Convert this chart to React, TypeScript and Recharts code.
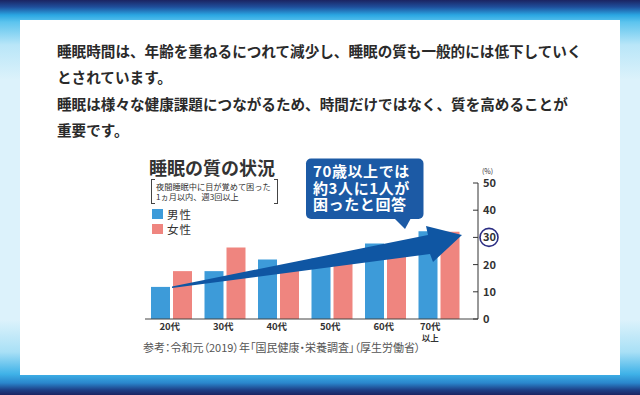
import React from 'react';
import { BarChart, Bar, XAxis, YAxis, Legend } from 'recharts';

const categories = ['20代', '30代', '40代', '50代', '60代', '70代以上'];
const maleValues = [11.8, 17.6, 21.9, 22.2, 27.8, 32.3];
const femaleValues = [17.6, 26.3, 18.5, 22.0, 25.0, 32.1];
const yTicks = [0, 10, 20, 30, 40, 50];
const maleName = '男性';
const femaleName = '女性';
const seriesOrder = [maleName, femaleName];
const highlightTick = 30;

const paragraphLines = [
  '睡眠時間は、年齢を重ねるにつれて減少し、睡眠の質も一般的には低下していく',
  'とされています。',
  '睡眠は様々な健康課題につながるため、時間だけではなく、質を高めることが',
  '重要です。',
];
const chartTitle = '睡眠の質の状況';
const noteLines = ['夜間睡眠中に目が覚めて困った', '1ヵ月以内、週3回以上'];
const calloutLines = ['70歳以上では', '約3人に1人が', '困ったと回答'];
const sourceText = '参考：令和元（2019）年「国民健康・栄養調査」（厚生労働省）';
const unitText = '(%)';

const data = categories.map((c, i) => ({ cat: c, male: maleValues[i], female: femaleValues[i] }));

const FONT = '"Noto Sans CJK JP", "Noto Sans", sans-serif';
const MALE_COLOR = '#3d9bd9';
const FEMALE_COLOR = '#ef857f';
const NAVY = '#0f56a3';

const YTick = (props: any) => {
  const { x, y, payload } = props;
  const v = payload.value;
  return (
    <g>
      <line x1={x - 5} x2={x} y1={y} y2={y} stroke="#333" strokeWidth={1} />
      {v === highlightTick && (
        <circle cx={x + 11} cy={y} r={9} fill="#fff" stroke="#2b2d83" strokeWidth={1.6} />
      )}
      {v === yTicks[yTicks.length - 1] && (
        <text x={x + 4} y={y - 9} fontSize={7} fill="#333" fontFamily={FONT}>{unitText}</text>
      )}
      <text x={x + 5} y={y} dy="0.36em" fontSize={11} fontWeight={700} fill="#333" fontFamily={FONT}>
        {v}
      </text>
    </g>
  );
};

const XTick = (props: any) => {
  const { x, y, payload } = props;
  const label = String(payload.value);
  const lines = label.endsWith('以上') ? [label.replace('以上', ''), '以上'] : [label];
  const dx = lines.length > 1 ? -9 : -2;
  return (
    <g>
      {lines.map((l, i) => (
        <text
          key={i}
          x={x + dx}
          y={y + 11 + i * 10.5}
          textAnchor="middle"
          fontSize={i === 0 ? 9.5 : 8.5}
          fontWeight={700}
          fill="#333"
          fontFamily={FONT}
        >
          {l}
        </text>
      ))}
    </g>
  );
};

const LegendContent = (props: any) => {
  const items = [...(props.payload || [])].sort(
    (a: any, b: any) => seriesOrder.indexOf(a.value) - seriesOrder.indexOf(b.value)
  );
  return (
    <div style={{ fontFamily: FONT }}>
      {items.map((it: any, i: number) => (
        <div key={i} style={{ display: 'flex', alignItems: 'center', height: 15.5 }}>
          <div style={{ width: 11, height: 10, background: it.color, marginRight: 4 }} />
          <span style={{ fontSize: 11.5, color: '#333', letterSpacing: 1, lineHeight: '12px' }}>{it.value}</span>
        </div>
      ))}
    </div>
  );
};

export default function App() {
  return (
    <div
      style={{
        position: 'absolute',
        left: 0,
        top: 0,
        width: 640,
        height: 395,
        overflow: 'hidden',
        fontFamily: FONT,
        background:
          'linear-gradient(to bottom, #1b2462 0px, #1f4f9c 7px, #2aa6e2 15px, #5cc4ee 22px, #b9e6f8 45px, #dcf2fb 80px, #dcf2fb 320px, #a9e0f6 352px, #3fb2e8 374px, #2a86cc 383px, #1d3f86 390px, #1b2462 395px)',
      }}
    >
      <div style={{ position: 'absolute', left: 20, top: 20, width: 600, height: 355, background: '#fff' }} />
      <div
        style={{
          position: 'absolute',
          left: 57,
          top: 38,
          fontSize: 14.6,
          lineHeight: '26.3px',
          fontWeight: 700,
          color: '#2a2a2a',
          whiteSpace: 'nowrap',
        }}
      >
        {paragraphLines.map((l, i) => (
          <div key={i}>{l}</div>
        ))}
      </div>
      <div
        style={{
          position: 'absolute',
          left: 149,
          top: 156,
          fontSize: 18,
          lineHeight: '22px',
          fontWeight: 700,
          color: '#333',
          whiteSpace: 'nowrap',
        }}
      >
        {chartTitle}
      </div>
      <div
        style={{
          position: 'absolute',
          left: 151,
          top: 179,
          width: 127,
          height: 24,
          fontSize: 8.2,
          lineHeight: '10.5px',
          color: '#333',
          whiteSpace: 'nowrap',
        }}
      >
        <div style={{ position: 'absolute', left: 0, top: 0, width: 3, height: 23, borderLeft: '1px solid #444', borderTop: '1px solid #444', borderBottom: '1px solid #444' }} />
        <div style={{ position: 'absolute', right: 0, top: 0, width: 3, height: 23, borderRight: '1px solid #444', borderTop: '1px solid #444', borderBottom: '1px solid #444' }} />
        <div style={{ position: 'absolute', left: 5, top: 1.5 }}>
          {noteLines.map((l, i) => (
            <div key={i}>{l}</div>
          ))}
        </div>
      </div>
      <div
        style={{
          position: 'absolute',
          left: 143,
          top: 339,
          fontSize: 11,
          color: '#555',
          whiteSpace: 'nowrap',
          fontFeatureSettings: '"palt"',
        }}
      >
        {sourceText}
      </div>
      <div style={{ position: 'absolute', left: 0, top: 0 }}>
        <BarChart
          width={640}
          height={395}
          data={data}
          margin={{ top: 183, right: 122, bottom: 46, left: 145 }}
          barCategoryGap={6}
          barGap={3}
          style={{ fontFamily: FONT }}
        >
          <XAxis
            dataKey="cat"
            interval={0}
            tickLine={false}
            tickSize={0}
            tickMargin={0}
            axisLine={{ stroke: '#444', strokeWidth: 1 }}
            tick={<XTick />}
            padding={{ left: 0, right: 12 }}
            height={30}
          />
          <YAxis
            orientation="right"
            domain={[0, 50]}
            ticks={yTicks}
            width={40}
            tickLine={false}
            tickSize={0}
            tickMargin={0}
            axisLine={{ stroke: '#333', strokeWidth: 1 }}
            tick={<YTick />}
          />
          <Legend
            layout="vertical"
            align="center"
            verticalAlign="middle"
            content={<LegendContent />}
            wrapperStyle={{ left: 152, top: 206, width: 60, height: 34 }}
          />
          <Bar dataKey="male" name={maleName} fill={MALE_COLOR} isAnimationActive={false} />
          <Bar dataKey="female" name={femaleName} fill={FEMALE_COLOR} isAnimationActive={false} />
        </BarChart>
      </div>
      <svg width={640} height={395} style={{ position: 'absolute', left: 0, top: 0, pointerEvents: 'none' }}>
        <polygon
          points="172,286.5 428,235 426,226 462,235 433,262 430,254 172,288"
          fill={NAVY}
        />
        <rect x={306} y={158.5} width={117.5} height={60.5} rx={5} fill="#1c5aa5" />
        <polygon points="394,218 411,218 405,229" fill="#1c5aa5" />
        {calloutLines.map((l, i) => (
          <text
            key={i}
            x={313}
            y={177 + i * 16.5}
            fontSize={15}
            fontWeight={700}
            fill="#fff"
            fontFamily={FONT}
            letterSpacing={0.6}
          >
            {l}
          </text>
        ))}
      </svg>
    </div>
  );
}
